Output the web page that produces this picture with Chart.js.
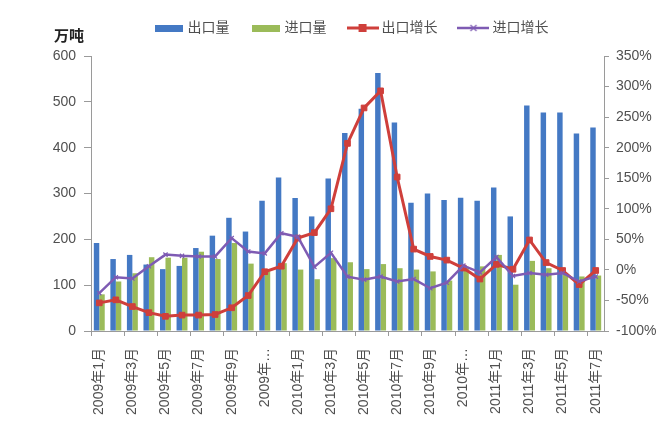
<!DOCTYPE html>
<html>
<head>
<meta charset="utf-8">
<script src="https://cdn.jsdelivr.net/npm/chart.js@4.4.0/dist/chart.umd.min.js"></script>
<style>
  html, body { margin: 0; padding: 0; background: #ffffff; }
  #wrap { width: 671px; height: 429px; position: relative; }
</style>
</head>
<body>
<div id="wrap"><canvas id="c"></canvas></div>
<script>
const months = ['2009年1月','2009年2月','2009年3月','2009年4月','2009年5月','2009年6月','2009年7月','2009年8月','2009年9月','2009年10月','2009年11月','2009年12月',
  '2010年1月','2010年2月','2010年3月','2010年4月','2010年5月','2010年6月','2010年7月','2010年8月','2010年9月','2010年10月','2010年11月','2010年12月',
  '2011年1月','2011年2月','2011年3月','2011年4月','2011年5月','2011年6月','2011年7月'];
const tickLabels = ['2009年1月','2009年3月','2009年5月','2009年7月','2009年9月','2009年…','2010年1月','2010年3月',
  '2010年5月','2010年7月','2010年9月','2010年…','2011年1月','2011年3月','2011年5月','2011年7月'];
const exportVol = [192,157,166,145,135,142,181,208,247,217,284,335,290,250,333,432,485,563,455,280,300,286,291,284,313,250,492,477,477,431,444];
const importVol = [80,108,126,161,160,160,173,157,192,147,130,148,134,113,159,150,135,146,137,134,130,110,140,141,166,101,153,137,125,119,121];
const exportGrowth = [-54,-49,-60,-70,-76,-74,-74,-73,-62,-42,-3,6,52,61,100,207,265,293,152,34,22,16,3,-15,9,1,49,12,-1,-24,-1];
const importGrowth = [-38,-12,-14,6,25,23,22,22,52,30,27,60,54,5,28,-11,-16,-11,-19,-15,-30,-21,7,-4,21,-10,-5,-8,-5,-19,-11];
const seriesNames = ['出口量','进口量','出口增长','进口增长'];
const leftTicks = {min: 0, max: 600, step: 100};
const rightTicks = {min: -100, max: 350, step: 50};

const BLUE = '#4479C4', GREEN = '#9BBB59', RED = '#CF3F3B', PURPLE = '#7E5BB3';
const FONT = '"Liberation Sans", "Noto Sans CJK SC", sans-serif';
const TXT = '#505050';

function barSym(color) {
  const c = document.createElement('canvas');
  c.width = 28; c.height = 7;
  const g = c.getContext('2d');
  g.fillStyle = color; g.fillRect(0, 0, 28, 7);
  return c;
}
function lineSym(color, marker) {
  const c = document.createElement('canvas');
  c.width = 32; c.height = 10;
  const g = c.getContext('2d');
  g.strokeStyle = color; g.lineWidth = marker === 'rect' ? 3 : 2.5;
  g.beginPath(); g.moveTo(0, 5); g.lineTo(32, 5); g.stroke();
  if (marker === 'rect') {
    g.fillStyle = color; g.fillRect(12, 1, 8, 8);
  } else {
    g.lineWidth = 1.2;
    g.beginPath(); g.moveTo(13, 2); g.lineTo(19, 8); g.moveTo(19, 2); g.lineTo(13, 8); g.stroke();
  }
  return c;
}
const legendSyms = [barSym(BLUE), barSym(GREEN), lineSym(RED, 'rect'), lineSym(PURPLE, 'x')];

// nudges the legend row to the reference position (after the chart area has been laid out)
const legendNudge = {
  id: 'legendNudge',
  afterLayout(chart) {
    const lg = chart.legend;
    if (!lg) return;
    const dx = 17, dy = -11;
    lg.left += dx; lg.right += dx; lg.top += dy; lg.bottom += dy;
  }
};

const unitTitle = {
  id: 'unitTitle',
  afterDraw(chart) {
    const ctx = chart.ctx;
    ctx.save();
    ctx.font = 'bold 15px ' + FONT;
    ctx.fillStyle = '#222';
    ctx.textBaseline = 'middle';
    ctx.textAlign = 'left';
    ctx.fillText('万吨', 54, 37);
    ctx.restore();
  }
};

new Chart(document.getElementById('c'), {
  type: 'bar',
  data: {
    labels: months,
    datasets: [
      { label: seriesNames[0], data: exportVol, backgroundColor: BLUE, yAxisID: 'y', order: 2,
        categoryPercentage: 0.66, barPercentage: 1.0 },
      { label: seriesNames[1], data: importVol, backgroundColor: GREEN, yAxisID: 'y', order: 2,
        categoryPercentage: 0.66, barPercentage: 1.0 },
      { type: 'line', label: seriesNames[2], data: exportGrowth, yAxisID: 'y1', order: 1,
        borderColor: RED, backgroundColor: RED, borderWidth: 3, tension: 0,
        pointStyle: 'rect', pointRadius: 4, pointBackgroundColor: RED, pointBorderColor: RED, pointBorderWidth: 1 },
      { type: 'line', label: seriesNames[3], data: importGrowth, yAxisID: 'y1', order: 0,
        borderColor: PURPLE, backgroundColor: PURPLE, borderWidth: 2.5, tension: 0,
        pointStyle: 'crossRot', pointRadius: 3, pointBorderColor: PURPLE, pointBorderWidth: 1.2 }
    ]
  },
  options: {
    responsive: true,
    maintainAspectRatio: false,
    animation: false,
    layout: { padding: { top: 8, left: 0, right: 0, bottom: 0 } },
    plugins: {
      tooltip: { enabled: false },
      legend: {
        display: true,
        position: 'top',
        labels: {
          usePointStyle: true,
          pointStyleWidth: 24,
          boxHeight: 10,
          padding: 24,
          color: TXT,
          font: { size: 14, family: FONT },
          sort: (a, b) => a.datasetIndex - b.datasetIndex,
          generateLabels(chart) {
            const items = Chart.defaults.plugins.legend.labels.generateLabels(chart);
            items.forEach(it => { it.pointStyle = legendSyms[it.datasetIndex]; });
            return items;
          }
        }
      }
    },
    scales: {
      x: {
        offset: true,
        grid: {
          offset: true, drawOnChartArea: false, drawTicks: true, tickLength: 5,
          color: c => (c.index % 2 === 0 ? '#9a9a9a' : 'rgba(0,0,0,0)')
        },
        border: { color: '#9a9a9a' },
        ticks: {
          autoSkip: false, minRotation: 90, maxRotation: 90, padding: 12,
          color: TXT, font: { size: 14, family: FONT },
          callback: (v, i) => (i % 2 === 0 ? tickLabels[i / 2] : '')
        },
        afterFit: s => { s.height = 98; }
      },
      y: {
        position: 'left',
        min: leftTicks.min, max: leftTicks.max,
        grid: { drawOnChartArea: false, drawTicks: true, tickLength: 7, color: '#9a9a9a' },
        border: { color: '#9a9a9a' },
        ticks: { stepSize: leftTicks.step, padding: 8, color: TXT, font: { size: 14, family: FONT } },
        afterFit: s => { s.width = 91; }
      },
      y1: {
        position: 'right',
        min: rightTicks.min, max: rightTicks.max,
        grid: { drawOnChartArea: false, drawTicks: true, tickLength: 5, color: '#9a9a9a' },
        border: { color: '#9a9a9a' },
        ticks: { stepSize: rightTicks.step, padding: 7, color: TXT, font: { size: 14, family: FONT },
          callback: v => v + '%' },
        afterFit: s => { s.width = 67; }
      }
    }
  },
  plugins: [legendNudge, unitTitle]
});
</script>
</body>
</html>
